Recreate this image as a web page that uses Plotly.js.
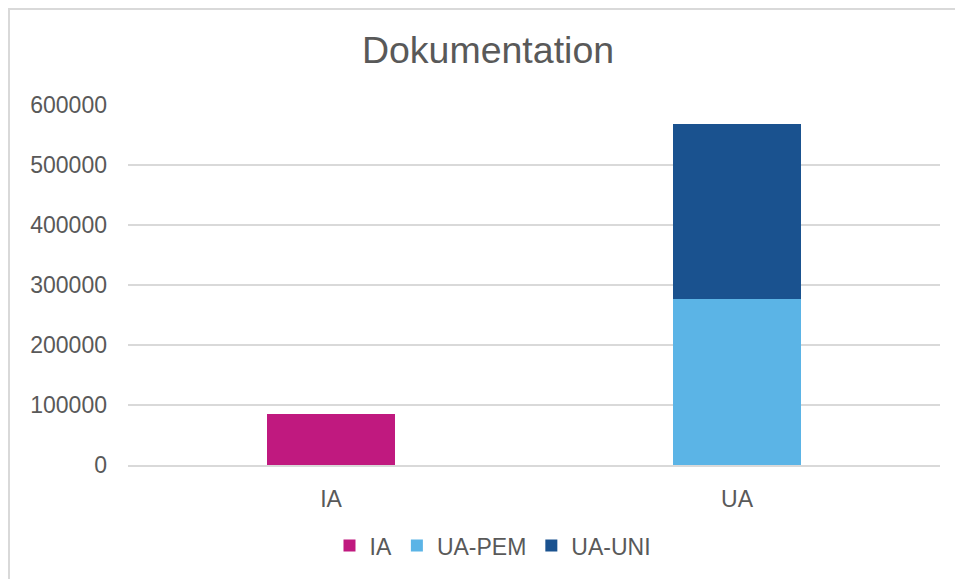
<!DOCTYPE html>
<html>
<head>
<meta charset="utf-8">
<script src="https://cdn.plot.ly/plotly-3.0.1.min.js"></script>
<style>
  html, body { margin: 0; padding: 0; background: #fff; }
  #frame { position: absolute; left: 8px; top: 8px; width: 960px; height: 600px;
           border-top: 2px solid #d9d9d9; border-left: 2px solid #d9d9d9; box-sizing: border-box; }
  #chart { position: absolute; left: 0; top: 0; width: 955px; height: 579px; }
</style>
</head>
<body>
<div id="frame"></div>
<div id="chart"></div>
<script>
const seriesNames = ['IA', 'UA-PEM', 'UA-UNI'];
const seriesCategory = ['IA', 'UA', 'UA'];
const seriesValues = [85000, 277000, 291000];
const seriesColors = ['#c0197f', '#5bb4e6', '#1a528f'];
const categories = ['IA', 'UA'];
const yTicks = [0, 100000, 200000, 300000, 400000, 500000, 600000];

const traces = seriesNames.map((name, i) => ({
  type: 'bar',
  name: name,
  x: [seriesCategory[i]],
  y: [seriesValues[i]],
  marker: { color: seriesColors[i] },
  hoverinfo: 'x+y+name'
}));

const layout = {
  width: 955, height: 579,
  paper_bgcolor: 'rgba(0,0,0,0)',
  plot_bgcolor: 'rgba(0,0,0,0)',
  margin: { l: 128, r: 15, t: 105, b: 111 },
  font: { family: 'Liberation Sans, Arial, sans-serif', color: '#595959', size: 23 },
  title: { text: 'Dokumentation', font: { size: 37.5, color: '#595959' },
           x: 488/955, xanchor: 'center', xref: 'container', y: 1 - 50/579, yanchor: 'middle', yref: 'container' },
  barmode: 'stack',
  bargap: 0.685,
  xaxis: { type: 'category', categoryarray: categories, showgrid: false, zeroline: false,
           showline: true, linecolor: '#d9d9d9', linewidth: 1.5, ticks: '', ticklabelstandoff: 13,
           tickfont: { size: 23, color: '#595959' } },
  yaxis: { range: [0, 600000], tickvals: yTicks, ticktext: yTicks.map(String),
           showgrid: true, gridcolor: '#d9d9d9', gridwidth: 1.5, zeroline: false,
           showline: false, ticks: '', ticklabelstandoff: 20,
           tickfont: { size: 23, color: '#595959' } },
  legend: { orientation: 'h', x: 0.4495, xanchor: 'center', y: -0.224, yanchor: 'middle',
            font: { size: 23, color: '#595959' }, traceorder: 'normal', itemwidth: 30 },
  showlegend: true
};

Plotly.newPlot('chart', traces, layout, { displayModeBar: false, staticPlot: true });
</script>
</body>
</html>
